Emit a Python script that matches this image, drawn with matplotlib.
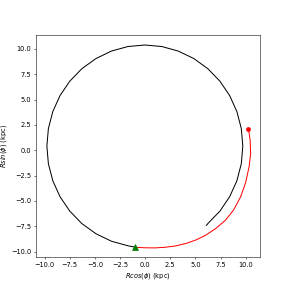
import matplotlib
matplotlib.use("Agg")
import matplotlib.pyplot as plt

# Past orbit (black)
black_x = [-1.00, -1.72, -3.36, -4.90, -6.30, -7.50, -8.47, -9.19, -9.63, -9.78,
           -9.63, -9.19, -8.47, -7.50, -6.30, -4.90, -3.36, -1.72, -0.03, 1.66,
           3.30, 4.85, 6.24, 7.44, 8.41, 9.13, 9.57, 9.72, 9.57, 9.13,
           8.41, 7.44, 6.24, 6.10]
black_y = [-9.57, -9.43, -8.98, -8.24, -7.24, -6.01, -4.59, -3.01, -1.33, 0.41,
           2.14, 3.82, 5.40, 6.82, 8.05, 9.05, 9.79, 10.24, 10.39, 10.24,
           9.79, 9.05, 8.05, 6.82, 5.40, 3.82, 2.14, 0.41, -1.33, -3.01,
           -4.59, -6.01, -7.24, -7.42]

# Future orbit (red)
red_x = [-1.0, 0.0, 1.0, 2.0, 3.0, 4.0, 5.0, 6.0, 7.0, 8.0, 8.8, 9.5, 10.0, 10.35, 10.5, 10.45, 10.28]
red_y = [-9.58, -9.63, -9.64, -9.58, -9.45, -9.22, -8.88, -8.40, -7.75, -6.90, -5.90, -4.60, -3.20, -1.60, -0.30, 1.0, 2.1]

start_pt = (-1.0, -9.58)
end_pt = (10.28, 2.1)

fig = plt.figure(figsize=(289/48, 289/48), dpi=48)
ax = fig.add_subplot(111)
ax.plot(black_x, black_y, color='k', lw=1.5)
ax.plot(red_x, red_y, color='r', lw=1.5)
ax.plot([start_pt[0]], [start_pt[1]], marker='^', color='g', markersize=10)
ax.plot([end_pt[0]], [end_pt[1]], marker='o', color='r', markersize=6)
ax.set_xlim(-10.85, 11.44)
ax.set_ylim(-10.56, 11.41)
ax.set_xlabel(r'$Rcos(\phi)$ (kpc)')
ax.set_ylabel(r'$Rsin(\phi)$ (kpc)')
fig.savefig("out.png", dpi=48)
